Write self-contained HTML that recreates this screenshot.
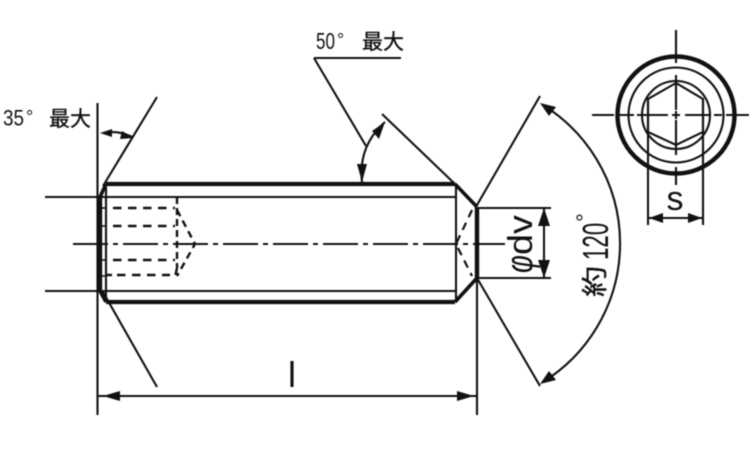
<!DOCTYPE html>
<html><head><meta charset="utf-8"><style>
html,body{margin:0;padding:0;background:#fff}
svg{display:block;filter:blur(.4px)}
text{font-family:"Liberation Sans","Noto Sans CJK JP",sans-serif;fill:#111}
.j{stroke:#111;stroke-width:.35px}
</style></head><body>
<svg width="750" height="450" viewBox="0 0 750 450" xmlns="http://www.w3.org/2000/svg">
<rect width="750" height="450" fill="#fff"/>
<g fill="none" stroke="#111" stroke-width="2.1">
<!-- extension and thread lines -->
<path d="M97.5 103V415M477 278V415"/>
<path d="M103 186L157 97M103 292L157 387"/>
<path d="M45 197H456M45 291H456"/>
<path d="M382 114L455 184M477 205L540 96M477 278L540 386"/>
<path d="M477 208H551M477 278H551"/>
<path d="M314 58H401M314 58L366 146"/>
<path d="M456 184V302"/>
<path d="M106 187V299"/>
<path d="M100 208H106M100 226H106M100 260H106M100 276H106" stroke-width="1.6"/>
<!-- body -->
<path d="M106 184H455M106 302H455" stroke-width="4.3"/>
<path d="M100 197V291M477 207V278" stroke-width="4.4"/>
<path d="M100 197L106 184M100 291L106 302M455 184L477 207M455 302L477 278" stroke-width="3.6"/>
<!-- centre line -->
<path d="M73 244H505" stroke-dasharray="35 5 5 5"/>
<!-- hidden lines -->
<path d="M113 208H175M113 226H175M113 260H175M117 275H170" stroke-width="2.5" stroke-dasharray="8.5 6.5"/>
<path d="M107 275H112" stroke-width="2.5"/>
<path d="M177 197V268M177 268L175 277" stroke-width="2.4" stroke-dasharray="7 4"/>
<path d="M177 210L195 244L177 276" stroke-width="2.4" stroke-dasharray="7 5"/>
<path d="M472 210L456 244L472 276" stroke-dasharray="8 6" stroke-width="2.2"/>
<!-- arcs -->
<path d="M105 133Q118 130 132 137"/>
<path d="M362 182Q358 146 385 122"/>
<path d="M543 105A163 163 0 0 1 543 382"/>
<!-- dims -->
<path d="M98 396H477"/>
<path d="M544 208V278"/>
<path d="M648 99V225M703 99V225M648 218H703"/>
<!-- end view -->
<circle cx="676" cy="115" r="58.5" stroke-width="4.4"/>
<circle cx="676" cy="115" r="47.5"/>
<circle cx="676" cy="115" r="34"/>
<path d="M676 83L648 99V132L676 145L703 132V99Z"/>
</g>
<g fill="none" stroke="#111" stroke-width="2.1">
<path d="M592 115H614M618 115H634M637 115H668M672 115H680M685 115H710M714 115H722M726 115H749"/>
<path d="M676 30V63M676 75V110M676 111V119M676 120V155M676 167V185"/>
</g>
<!-- arrowheads -->
<g fill="#111" stroke="none">
<polygon points="103,396 120,391 120,401"/>
<polygon points="474,396 457,391 457,401"/>
<polygon points="544,208 538,226 550,226"/>
<polygon points="544,278 538,260 550,260"/>
<polygon points="649,218 663,213 663,223"/>
<polygon points="702,218 688,213 688,223"/>
<polygon points="100,133 112,129 112,137"/>
<polygon points="134,138 122,131 120,139"/>
<polygon points="362,182 357,164 367,164"/>
<polygon points="385,122 372,131 379,139"/>
<polygon points="540,103 556,107 549,116"/>
<polygon points="540,384 556,380 549,371"/>
</g>
<!-- labels -->
<text transform="translate(3 125.5) scale(.86 1)" font-size="22">35</text>
<text x="26" y="123" font-size="18">°</text>
<text class="j" x="49" y="126" font-size="21">最大</text>
<text transform="translate(316 49) scale(.74 1)" font-size="23">50</text>
<text x="337" y="46" font-size="18">°</text>
<text class="j" x="362" y="49" font-size="21">最大</text>
<text x="292" y="387" font-size="36" text-anchor="middle">l</text>
<text x="675" y="210" font-size="34" text-anchor="middle">s</text>
<text transform="translate(532 255) rotate(-90)" font-size="34" textLength="40" lengthAdjust="spacingAndGlyphs">dv</text>
<text transform="translate(532 273) rotate(-90) scale(.72 1)" font-size="38" font-style="italic">φ</text>
<text transform="translate(608 260) rotate(-90) scale(.62 1)" font-size="36">120</text>
<text transform="translate(592 222) rotate(-90)" font-size="22">°</text>
<text class="j" transform="translate(604 297) rotate(-90) scale(1.2 1)" font-size="26">約</text>
</svg>
</body></html>
